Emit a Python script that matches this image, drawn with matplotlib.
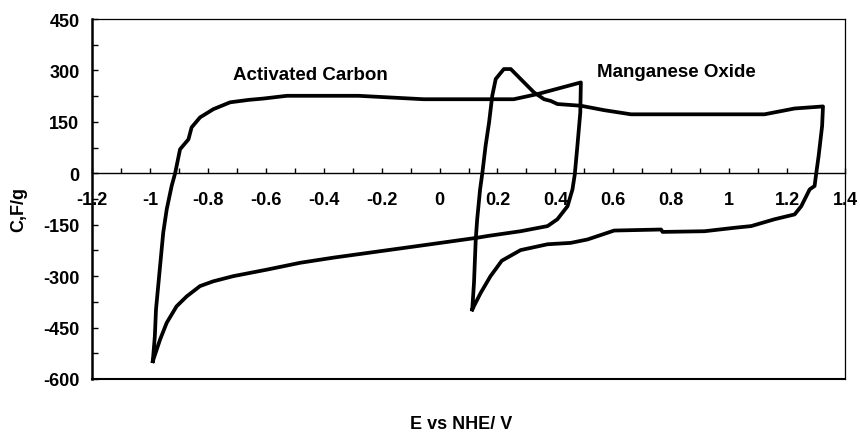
import matplotlib
matplotlib.use("Agg")
import matplotlib.pyplot as plt
from matplotlib.ticker import MultipleLocator, FuncFormatter

plt.rcParams["font.family"] = ["Liberation Sans", "DejaVu Sans"]
plt.rcParams["font.weight"] = "bold"

# activated carbon CV loop (E vs NHE / V, C / F/g)
ac_e = [-0.99, -0.983, -0.979, -0.965, -0.954, -0.942, -0.925, -0.913, -0.896,
        -0.867, -0.856, -0.827, -0.781, -0.723, -0.66, -0.608, -0.527, -0.28,
        -0.055, 0.0, 0.256, 0.338, 0.488, 0.486, 0.476, 0.467, 0.459, 0.442,
        0.407, 0.373, 0.28, 0.165, 0.13, -0.031, -0.366, -0.481, -0.596,
        -0.712, -0.781, -0.827, -0.873, -0.908, -0.942, -0.965, -0.99]
ac_c = [-548, -475, -397, -271, -173, -105, -37, 0, 70,
        99, 134, 163, 187, 207, 214, 218, 226, 226,
        216, 216, 216, 231, 265, 177, 80, -3, -47, -96,
        -134, -154, -169, -183, -188, -207, -246, -261, -281,
        -300, -315, -329, -359, -388, -436, -485, -548]

# manganese oxide CV loop
mn_e = [0.113, 0.119, 0.125, 0.13, 0.14, 0.148, 0.159, 0.171, 0.182, 0.194,
        0.222, 0.246, 0.28, 0.326, 0.361, 0.384, 0.407, 0.488, 0.569, 0.661,
        0.834, 1.122, 1.226, 1.324, 1.321, 1.309, 1.301, 1.295, 1.278, 1.249,
        1.226, 1.157, 1.076, 1.018, 0.915, 0.77, 0.765, 0.603, 0.511, 0.453,
        0.373, 0.28, 0.215, 0.176, 0.142, 0.113]
mn_c = [-397, -319, -193, -134, -47, 2, 80, 148, 226, 275,
        304, 304, 275, 236, 216, 211, 202, 197, 184, 172,
        172, 172, 189, 195, 138, 51, 2, -37, -47, -96,
        -120, -134, -154, -159, -169, -171, -164, -167, -193, -203,
        -207, -224, -255, -300, -349, -397]

fs = 13
fig = plt.figure(figsize=(8.6, 4.35), dpi=100)
ax = fig.add_axes([92 / 860, 55 / 435, 753 / 860, 360 / 435])

ax.plot(ac_e, ac_c, color="black", lw=2.7, solid_joinstyle="round")
ax.plot(mn_e, mn_c, color="black", lw=2.7, solid_joinstyle="round")

ax.set_xlim(-1.2, 1.4)
ax.set_ylim(-600, 450)

ax.spines["bottom"].set_position(("data", 0))
ax.spines["bottom"].set_linewidth(1.0)
ax.spines["left"].set_linewidth(1.8)
ax.spines["top"].set_linewidth(0.9)
ax.spines["right"].set_linewidth(0.9)
ax.axhline(ax.get_ylim()[0], color="black", lw=1.5, clip_on=False)

ax.xaxis.set_major_locator(MultipleLocator(0.2))
ax.xaxis.set_minor_locator(MultipleLocator(0.1))
ax.yaxis.set_major_locator(MultipleLocator(150))
ax.yaxis.set_minor_locator(MultipleLocator(75))
ax.xaxis.set_major_formatter(FuncFormatter(lambda v, p: "{:g}".format(round(v, 2))))
ax.yaxis.set_major_formatter(FuncFormatter(lambda v, p: "{:g}".format(v)))

ax.tick_params(axis="x", which="both", direction="in", length=3.5, width=1,
               pad=13, labelsize=fs)
ax.tick_params(axis="y", which="both", direction="in", length=4, width=1,
               pad=9, labelsize=fs)

ax.text(-0.446, 289, "Activated Carbon", ha="center", va="center",
        fontsize=fs + 0.5, fontweight="bold")
ax.text(0.817, 298, "Manganese Oxide", ha="center", va="center",
        fontsize=fs + 0.5, fontweight="bold")

fig.text(19 / 860, 1 - 210 / 435, "C,F/g", rotation=90, ha="center",
         va="center", fontsize=fs, fontweight="bold")
fig.text(461 / 860, 1 - 425 / 435, "E vs NHE/ V", ha="center", va="center",
         fontsize=fs, fontweight="bold")

fig.savefig("out.png", dpi=100)
